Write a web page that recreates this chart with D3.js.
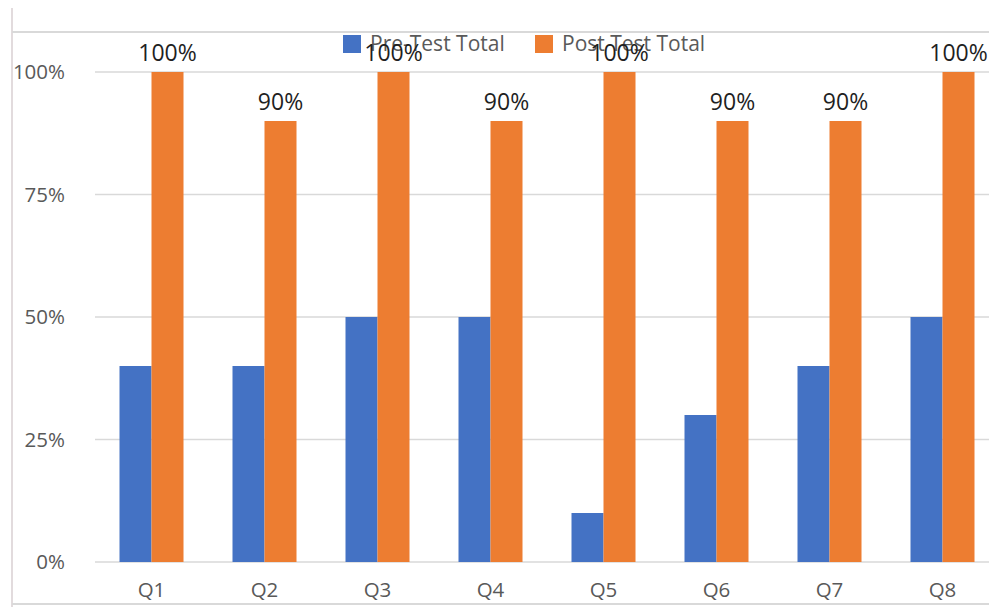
<!DOCTYPE html>
<html>
<head>
<meta charset="utf-8">
<script src="https://cdn.jsdelivr.net/npm/d3@7"></script>
<style>
  body { margin: 0; background: #fff; }
  svg { display: block; font-family: "Open Sans", "Liberation Sans", sans-serif; }
</style>
</head>
<body>
<div id="chart"></div>
<script>
const categories = ["Q1", "Q2", "Q3", "Q4", "Q5", "Q6", "Q7", "Q8"];
const preTest = [40, 40, 50, 50, 10, 30, 40, 50];
const postTest = [100, 90, 100, 90, 100, 90, 90, 100];
const seriesNames = ["Pre-Test Total", "Post Test Total"];
const yTicks = [0, 25, 50, 75, 100];

const width = 989, height = 607;
const margin = { top: 72, right: -10, bottom: 45, left: 95 };
const blue = "#4472C4", orange = "#ED7D31";

const svg = d3.select("#chart").append("svg")
  .attr("width", width).attr("height", height);

// frame lines from the screenshot
svg.append("line").attr("x1", 12).attr("x2", 12).attr("y1", 8).attr("y2", height)
  .attr("stroke", "#d8cfd2").attr("stroke-width", 1.5);
svg.append("line").attr("x1", 12).attr("x2", width).attr("y1", 32).attr("y2", 32)
  .attr("stroke", "#d9d9d9").attr("stroke-width", 2);
svg.append("line").attr("x1", 12).attr("x2", width).attr("y1", 604).attr("y2", 604)
  .attr("stroke", "#d9d9d9").attr("stroke-width", 2);

const x = d3.scaleBand().domain(categories)
  .range([margin.left, width - margin.right]);
const y = d3.scaleLinear().domain([0, 100]).range([height - margin.bottom, margin.top]);
const barW = 32;

// gridlines
svg.append("g").selectAll("line").data(yTicks).enter().append("line")
  .attr("x1", margin.left).attr("x2", width)
  .attr("y1", d => y(d)).attr("y2", d => y(d))
  .attr("stroke", "#d9d9d9").attr("stroke-width", 1.5);

// y labels
svg.append("g").selectAll("text").data(yTicks).enter().append("text")
  .attr("x", 65).attr("y", d => y(d)).attr("dy", "0.35em")
  .attr("text-anchor", "end").attr("fill", "#595959").attr("font-size", 20.5)
  .text(d => d + "%");

// x labels
svg.append("g").selectAll("text").data(categories).enter().append("text")
  .attr("x", d => x(d) + x.bandwidth() / 2).attr("y", 597)
  .attr("text-anchor", "middle").attr("fill", "#595959").attr("font-size", 20.5)
  .text(d => d);

// bars
const g = svg.append("g");
g.selectAll(".pre").data(categories).enter().append("rect")
  .attr("x", d => x(d) + x.bandwidth() / 2 - barW)
  .attr("width", barW)
  .attr("y", (d, i) => y(preTest[i]))
  .attr("height", (d, i) => y(0) - y(preTest[i]))
  .attr("fill", blue);
g.selectAll(".post").data(categories).enter().append("rect")
  .attr("x", d => x(d) + x.bandwidth() / 2)
  .attr("width", barW)
  .attr("y", (d, i) => y(postTest[i]))
  .attr("height", (d, i) => y(0) - y(postTest[i]))
  .attr("fill", orange);

// legend
const legend = svg.append("g");
const legendX = [343, 535];
seriesNames.forEach((name, i) => {
  legend.append("rect").attr("x", legendX[i]).attr("y", 35)
    .attr("width", 18).attr("height", 18).attr("fill", i === 0 ? blue : orange);
  legend.append("text").attr("x", legendX[i] + 27).attr("y", 44).attr("dy", "0.35em")
    .attr("fill", "#595959").attr("font-size", 21).text(name);
});

// data labels on post-test bars
svg.append("g").selectAll("text").data(categories).enter().append("text")
  .attr("x", d => x(d) + x.bandwidth() / 2 + barW / 2)
  .attr("y", (d, i) => y(postTest[i]) - 11)
  .attr("text-anchor", "middle").attr("fill", "#1f1f1f").attr("font-size", 23)
  .text((d, i) => postTest[i] + "%");
</script>
</body>
</html>
